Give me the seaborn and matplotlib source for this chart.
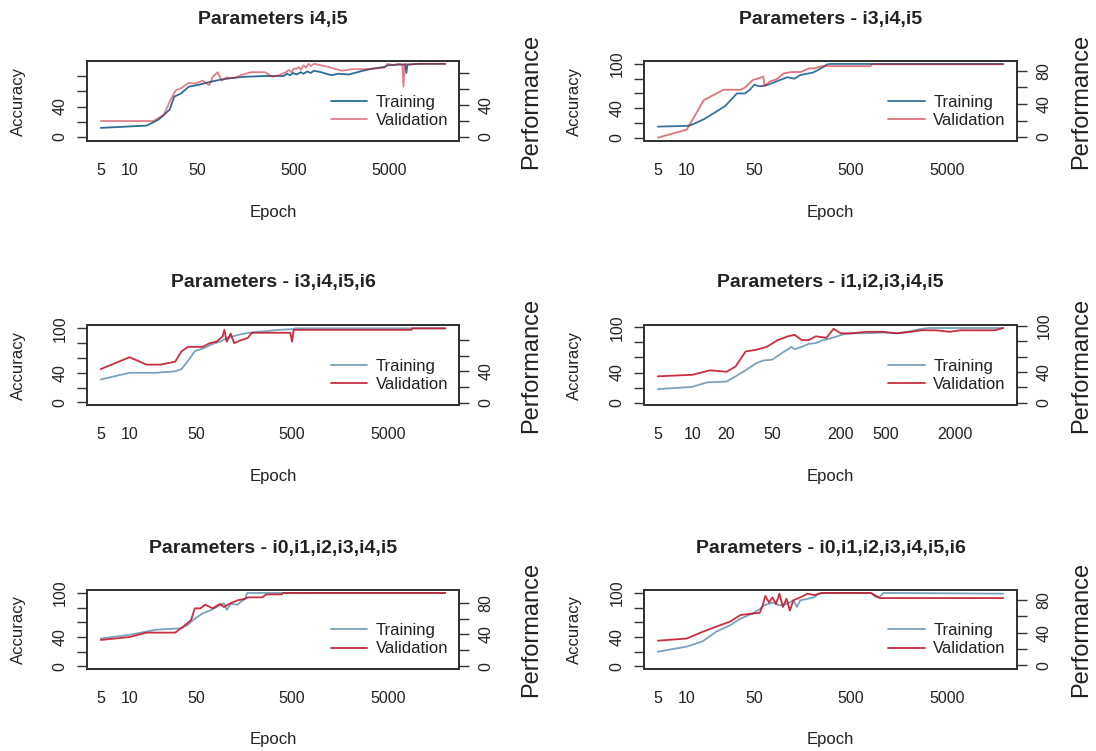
import numpy as np
import pandas as pd
import matplotlib
matplotlib.use("Agg")
import matplotlib.pyplot as plt
import seaborn as sns

# ---------------- data ----------------
titles = ["Parameters i4,i5", "Parameters - i3,i4,i5", "Parameters - i3,i4,i5,i6",
          "Parameters - i1,i2,i3,i4,i5", "Parameters - i0,i1,i2,i3,i4,i5",
          "Parameters - i0,i1,i2,i3,i4,i5,i6"]
series_names = ["Training", "Validation"]

p1_train_ep = [5, 15, 20, 26, 29, 34, 41, 50, 67, 86, 110, 155, 255, 355, 400, 430, 460, 500, 540,
               600, 640, 700, 760, 820, 975, 1250, 1470, 1890, 2660, 3130, 4440, 4800, 6200, 7300,
               7500, 7700, 10100, 19000]
p1_train_acc = [12, 15, 23, 36, 53, 57, 66, 68, 72, 75, 77, 79, 80, 80, 80, 83, 81, 84, 82,
                85, 83, 86, 84, 87, 85, 81, 83, 82, 87, 89, 92, 94, 95, 95,
                84, 95, 96, 96]
p1_val_ep = [5, 17.6, 22.6, 26.6, 30, 34, 41, 48, 57, 67, 73, 82, 90, 101, 120, 142, 182, 255, 302,
             355, 420, 450, 480, 510, 537, 570, 600, 640, 680, 720, 760, 820, 900, 975, 1150, 1600,
             2060, 2900, 4440, 4800, 5500, 6200, 6800, 7000, 7200, 8000, 10000, 19000]
p1_val_acc = [21, 21, 29, 49, 61, 64, 71, 70, 74, 68, 79, 85, 74, 78, 77, 81, 85, 85, 79,
              81, 85, 88, 85, 90, 89, 92, 88, 94, 91, 96, 93, 96, 95, 94, 92, 87,
              89, 89, 91, 96, 94, 96, 95, 66, 96, 95, 96, 96]

p2_train_ep = [5, 10, 11, 15, 20, 25, 33, 40, 45, 50, 55, 60, 70, 80, 100, 110, 130, 150, 180, 200,
               230, 260, 280, 300, 19000]
p2_train_acc = [15, 16, 17, 25, 35, 43, 60, 60, 65, 72, 70, 70, 72, 75, 80, 82, 80, 85, 87, 88,
                92, 96, 99, 100, 100]
p2_val_ep = [5, 10, 15, 24, 36, 40, 48, 57, 62, 64, 72, 80, 87, 100, 120, 150, 170, 185, 210, 250,
             300, 800, 820, 19000]
p2_val_acc = [0, 11, 51, 65, 65, 68, 78, 81, 83, 70, 76, 78, 80, 87, 89, 89, 92, 94, 94, 97,
              97, 97, 99.5, 99.5]

p3_train_ep = [5, 10, 19, 30, 35, 43, 48, 62, 74, 88, 105, 135, 160, 205, 260, 370, 520, 540, 20000]
p3_train_acc = [31, 40, 40, 42, 45, 60, 69, 74, 79, 82, 87, 91, 93, 95, 96, 98, 99, 100, 100]
p3_val_ep = [5, 10, 15, 21, 30, 35, 41, 58, 69, 81, 94, 98, 104, 114, 124, 146, 172, 190, 260,
             480, 500, 520, 8900, 9000, 20000]
p3_val_acc = [45, 61, 51, 51, 55, 69, 75, 75, 80, 82, 89, 98, 82, 93, 80, 84, 87, 94, 94,
              94, 82, 98, 98, 100, 100]

p4_train_ep = [5, 10, 13.5, 20, 24, 29.4, 36, 42, 50, 60, 74, 79, 91, 105, 121, 140, 161, 186, 215,
               266, 330, 465, 620, 770, 950, 1180, 5300]
p4_train_acc = [18, 21, 27, 28, 35, 43, 52, 56, 57, 65, 74, 71, 74, 78, 79, 83, 85, 88, 91,
                92, 92, 93, 92, 94, 97, 99, 99]
p4_val_ep = [5, 10, 14.4, 20, 24, 29.4, 36, 45, 56, 69, 79, 91, 105, 121, 150, 173, 200, 248, 330,
             465, 620, 830, 1020, 1360, 1800, 2230, 4500, 5300]
p4_val_acc = [35, 37, 43, 41, 48, 68, 70, 74, 83, 88, 90, 83, 83, 88, 86, 98, 92, 92, 94,
              94, 92, 94, 96, 96, 94, 96, 96, 99]

p5_train_ep = [5, 10, 19, 35, 41, 48, 58, 69, 82, 97, 104, 114, 135, 146, 161, 170, 20000]
p5_train_acc = [38, 43, 50, 52, 57, 65, 72, 76, 81, 86, 77, 85, 84, 88, 92, 100, 100]
p5_val_ep = [5, 10, 15, 30, 37, 44, 48, 55, 62, 74, 88, 97, 114, 135, 161, 172, 245, 268, 390,
             405, 20000]
p5_val_acc = [36, 40, 46, 46, 55, 63, 79, 79, 84, 79, 85, 81, 86, 90, 92, 94, 94, 98, 98,
              100, 100]

p6_train_ep = [5, 10, 14.5, 20, 28, 36, 48, 57, 63, 77, 91, 108, 127, 138, 150, 178, 210, 230, 270,
               810, 915, 1000, 1090, 19000]
p6_train_acc = [20, 27, 34, 47, 56, 65, 72, 78, 83, 87, 83, 85, 90, 81, 90, 92, 94, 99, 100,
                100, 94, 95, 100, 99]
p6_val_ep = [5, 10, 14.5, 20, 28, 36, 48, 57, 61, 65, 71, 77, 84, 91, 99, 108, 117, 127, 150, 178,
             210, 250, 810, 1000, 19000]
p6_val_acc = [35, 38, 47, 54, 61, 70, 72, 73, 83, 96, 87, 94, 85, 99, 81, 92, 76, 90, 94, 99,
              97, 100, 100, 93, 93]

train_ep = [p1_train_ep, p2_train_ep, p3_train_ep, p4_train_ep, p5_train_ep, p6_train_ep]
train_acc = [p1_train_acc, p2_train_acc, p3_train_acc, p4_train_acc, p5_train_acc, p6_train_acc]
val_ep = [p1_val_ep, p2_val_ep, p3_val_ep, p4_val_ep, p5_val_ep, p6_val_ep]
val_acc = [p1_val_acc, p2_val_acc, p3_val_acc, p4_val_acc, p5_val_acc, p6_val_acc]

xticks_std = [5, 10, 50, 100, 500, 1000, 5000, 10000]
xlabels_std = ["5", "10", "50", "", "500", "", "5000", ""]
xticks_p4 = [5, 10, 20, 50, 100, 200, 500, 1000, 2000, 5000]
xlabels_p4 = ["5", "10", "20", "50", "", "200", "500", "", "2000", ""]

left_ticks = [[0, 20, 40, 60, 80]] + [[0, 20, 40, 60, 80, 100]] * 5
left_labels = [["0", "", "40", "", ""]] + [["0", "", "40", "", "", "100"]] * 5
right_ticks = [[0, 20, 40, 60, 80], [0, 20, 40, 60, 80], [0, 20, 40, 60, 80],
               [0, 20, 40, 60, 80, 100], [0, 20, 40, 60, 80], [0, 20, 40, 60, 80]]
right_labels = [["0", "", "40", "", ""], ["0", "", "40", "", "80"], ["0", "", "40", "", ""],
                ["0", "", "40", "", "", "100"], ["0", "", "40", "", "80"], ["0", "", "40", "", "80"]]

# ---------------- styling ----------------
sns.set_style("white")
plt.rcParams["font.family"] = ["Liberation Sans", "DejaVu Sans"]
TXT = "#222222"
EDGE = "#333333"
BLUE = "#1f6592"
RED = "#c3182a"
alphas = [(0.95, 0.55), (0.9, 0.6), (0.6, 0.9), (0.6, 0.9), (0.6, 0.9), (0.6, 0.9)]

left_ylim = [(-5.2, 99.7), (-4.5, 104), (-3.5, 104.5), (-3, 103), (-3.5, 104), (-3.5, 104)]
right_ylim = [(-5, 95), (-4.8, 92), (-3, 99), (-3, 101), (-3.5, 96), (-4.5, 92)]
perf_x = [1.165, 1.142]

W, H = 1096, 751
fig = plt.figure(figsize=(W / 100, H / 100), dpi=100)
col_x = [(87, 459), (644, 1017)]
row_y = [(61, 141), (325, 405), (590, 669)]

for i in range(6):
    r, c = divmod(i, 2)
    x0, x1 = col_x[c]
    y0, y1 = row_y[r]
    ax = fig.add_axes([x0 / W, 1 - y1 / H, (x1 - x0) / W, (y1 - y0) / H])
    ax.set_xscale("log")

    ta, va = alphas[i]
    df_t = pd.DataFrame({"Epoch": train_ep[i], "Accuracy": train_acc[i]})
    df_v = pd.DataFrame({"Epoch": val_ep[i], "Accuracy": val_acc[i]})
    sns.lineplot(data=df_t, x="Epoch", y="Accuracy", ax=ax, color=BLUE, alpha=ta, lw=1.3,
                 estimator=None, sort=False, label=series_names[0])
    sns.lineplot(data=df_v, x="Epoch", y="Accuracy", ax=ax, color=RED, alpha=va, lw=1.3,
                 estimator=None, sort=False, label=series_names[1])

    xs = np.log10([min(train_ep[i][0], val_ep[i][0]), max(train_ep[i][-1], val_ep[i][-1])])
    span = xs[1] - xs[0]
    ax.set_xlim(10 ** (xs[0] - 0.04 * span), 10 ** (xs[1] + 0.04 * span))
    ax.set_ylim(*left_ylim[i])

    if i == 3:
        ax.set_xticks(xticks_p4)
        ax.set_xticklabels(xlabels_p4)
    else:
        ax.set_xticks(xticks_std)
        ax.set_xticklabels(xlabels_std)
    ax.xaxis.set_minor_locator(matplotlib.ticker.NullLocator())
    ax.set_yticks(left_ticks[i])
    ax.set_yticklabels(left_labels[i], rotation=90, va="center")

    ax.tick_params(axis="both", direction="out", length=7, width=1.0, color=EDGE,
                   labelcolor=TXT, labelsize=11.5)
    ax.tick_params(axis="x", pad=9)
    ax.tick_params(axis="y", pad=7)
    for s in ax.spines.values():
        s.set_color(EDGE)
        s.set_linewidth(1.4)

    ax.set_title(titles[i], fontsize=14, fontweight="bold", color=TXT, pad=27)
    ax.set_xlabel("Epoch", fontsize=12, color=TXT)
    ax.xaxis.set_label_coords(0.5, -0.8)
    ax.set_ylabel("Accuracy", fontsize=12, color=TXT)
    ax.yaxis.set_label_coords(-0.165, 0.5)

    ax.legend(loc="center left", bbox_to_anchor=(0.655, 0.37), frameon=False, fontsize=12,
              handlelength=2.2, handletextpad=0.5, labelspacing=0.2, borderpad=0,
              borderaxespad=0, labelcolor=TXT)

    ax2 = ax.twinx()
    ax2.set_ylim(*right_ylim[i])
    ax2.set_yticks(right_ticks[i])
    ax2.set_yticklabels(right_labels[i], rotation=90, va="center")
    ax2.yaxis.set_minor_locator(matplotlib.ticker.NullLocator())
    ax2.tick_params(axis="y", direction="out", length=7, width=1.0, color=EDGE,
                    labelcolor=TXT, labelsize=11.5, pad=7)
    for s in ax2.spines.values():
        s.set_color(EDGE)
        s.set_linewidth(1.4)
    ax2.set_ylabel("Performance", fontsize=17, color=TXT)
    ax2.yaxis.set_label_coords(perf_x[c], 0.5)

fig.savefig("out.png", dpi=100, facecolor="white")
